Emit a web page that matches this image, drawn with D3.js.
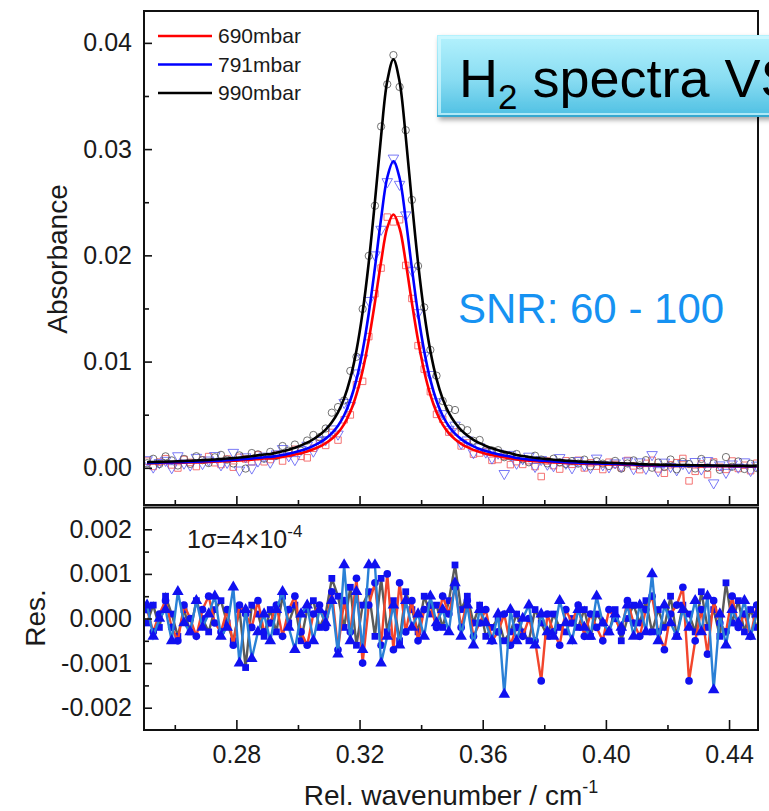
<!DOCTYPE html>
<html>
<head>
<meta charset="utf-8">
<script src="https://cdn.jsdelivr.net/npm/d3@7"></script>
<style>
  body { margin: 0; background: #fff; }
  svg { display: block; }
</style>
</head>
<body>
<div id="chart"></div>
<script>
// wavenumber grid (cm-1)
const wavenumber = [
  0.251,0.253,0.255,0.257,0.259,0.261,0.263,0.265,0.267,0.269,
  0.271,0.273,0.275,0.277,0.279,0.281,0.283,0.285,0.287,0.289,
  0.291,0.293,0.295,0.297,0.299,0.301,0.303,0.305,0.307,0.309,
  0.311,0.313,0.315,0.317,0.319,0.321,0.323,0.325,0.327,0.329,
  0.331,0.333,0.335,0.337,0.339,0.341,0.343,0.345,0.347,0.349,
  0.351,0.353,0.355,0.357,0.359,0.361,0.363,0.365,0.367,0.369,
  0.371,0.373,0.375,0.377,0.379,0.381,0.383,0.385,0.387,0.389,
  0.391,0.393,0.395,0.397,0.399,0.401,0.403,0.405,0.407,0.409,
  0.411,0.413,0.415,0.417,0.419,0.421,0.423,0.425,0.427,0.429,
  0.431,0.433,0.435,0.437,0.439,0.441,0.443,0.445,0.447,0.449
];

// fitted profiles
const fit690 = [
  0.00043,0.00043,0.00044,0.00046,0.00047,0.00048,0.00049,0.00051,0.00052,0.00054,
  0.00056,0.00058,0.00061,0.00063,0.00066,0.00069,0.00073,0.00077,0.00082,0.00087,
  0.00088,0.00095,0.00104,0.00113,0.00125,0.00138,0.00154,0.00174,0.00199,0.00231,
  0.00273,0.00331,0.00412,0.00528,0.00692,0.00914,0.01205,0.01559,0.01940,0.02260,
  0.02385,0.02255,0.01935,0.01554,0.01200,0.00909,0.00687,0.00523,0.00407,0.00326,
  0.00268,0.00226,0.00194,0.00169,0.00149,0.00133,0.00120,0.00108,0.00099,0.00090,
  0.00078,0.00072,0.00067,0.00062,0.00058,0.00054,0.00051,0.00048,0.00046,0.00043,
  0.00041,0.00039,0.00037,0.00036,0.00034,0.00033,0.00032,0.00031,0.00029,0.00028,
  0.00023,0.00022,0.00021,0.00020,0.00019,0.00019,0.00018,0.00018,0.00017,0.00017,
  0.00016,0.00016,0.00015,0.00015,0.00015,0.00014,0.00014,0.00014,0.00013,0.00013
];
const fit791 = [
  0.00046,0.00047,0.00049,0.00050,0.00051,0.00053,0.00054,0.00056,0.00058,0.00060,
  0.00063,0.00065,0.00068,0.00071,0.00075,0.00079,0.00083,0.00088,0.00094,0.00100,
  0.00103,0.00111,0.00121,0.00133,0.00147,0.00163,0.00182,0.00207,0.00237,0.00275,
  0.00326,0.00397,0.00495,0.00636,0.00833,0.01103,0.01455,0.01884,0.02345,0.02733,
  0.02885,0.02728,0.02340,0.01879,0.01450,0.01098,0.00828,0.00631,0.00490,0.00392,
  0.00321,0.00270,0.00232,0.00202,0.00177,0.00158,0.00142,0.00128,0.00116,0.00106,
  0.00093,0.00085,0.00079,0.00073,0.00068,0.00064,0.00060,0.00056,0.00053,0.00050,
  0.00048,0.00045,0.00043,0.00041,0.00039,0.00038,0.00036,0.00035,0.00034,0.00032,
  0.00026,0.00025,0.00024,0.00023,0.00023,0.00022,0.00021,0.00020,0.00020,0.00019,
  0.00019,0.00018,0.00018,0.00017,0.00017,0.00016,0.00016,0.00016,0.00015,0.00015
];
const fit990 = [
  0.00053,0.00055,0.00056,0.00058,0.00060,0.00062,0.00064,0.00067,0.00069,0.00072,
  0.00075,0.00079,0.00082,0.00087,0.00091,0.00097,0.00103,0.00109,0.00117,0.00126,
  0.00130,0.00142,0.00155,0.00171,0.00189,0.00211,0.00237,0.00269,0.00309,0.00360,
  0.00429,0.00522,0.00654,0.00842,0.01105,0.01465,0.01935,0.02507,0.03123,0.03640,
  0.03845,0.03635,0.03118,0.02502,0.01930,0.01460,0.01100,0.00837,0.00649,0.00517,
  0.00424,0.00355,0.00304,0.00264,0.00232,0.00206,0.00184,0.00166,0.00150,0.00137,
  0.00120,0.00111,0.00102,0.00094,0.00088,0.00082,0.00076,0.00072,0.00067,0.00064,
  0.00060,0.00057,0.00054,0.00052,0.00049,0.00047,0.00045,0.00043,0.00041,0.00040,
  0.00033,0.00032,0.00031,0.00030,0.00028,0.00028,0.00026,0.00026,0.00025,0.00024,
  0.00023,0.00023,0.00022,0.00021,0.00021,0.00020,0.00020,0.00019,0.00018,0.00018
];

// residuals (data - fit)
const res690 = [
  2e-4,-3e-4,1e-4,4e-4,-2e-4,-5e-4,3e-4,0,-4e-4,2e-4,
  5e-4,-1e-4,-3e-4,2e-4,-6e-4,3e-4,1e-4,-2e-4,4e-4,-3e-4,
  -1e-4,3e-4,-4e-4,2e-4,5e-4,-3e-4,-6e-4,1e-4,3e-4,-2e-4,
  6e-4,-7e-4,4e-4,-3e-4,9e-4,-10e-4,3e-4,8e-4,-6e-4,10e-4,
  -7e-4,8e-4,-3e-4,4e-4,-5e-4,2e-4,3e-4,-2e-4,5e-4,1e-4,
  7e-4,-2e-4,4e-4,-4e-4,-1e-4,2e-4,-5e-4,-3e-4,1e-4,-6e-4,
  -2e-4,-4e-4,0,-5e-4,-14e-4,1e-4,-3e-4,-6e-4,2e-4,-1e-4,
  3e-4,-4e-4,1e-4,-2e-4,-5e-4,2e-4,0,-3e-4,4e-4,-1e-4,
  -4e-4,2e-4,5e-4,-3e-4,-7e-4,1e-4,3e-4,7e-4,-14e-4,-5e-4,
  2e-4,-8e-4,4e-4,-1e-4,-3e-4,5e-4,-2e-4,1e-4,-4e-4,3e-4
];
const res791 = [
  3e-4,-4e-4,0,2e-4,-5e-4,6e-4,-1e-4,-3e-4,4e-4,-2e-4,
  1e-4,5e-4,-4e-4,-2e-4,7e-4,-10e-4,2e-4,-9e-4,-3e-4,1e-4,
  -5e-4,2e-4,6e-4,-2e-4,-7e-4,1e-4,3e-4,-5e-4,2e-4,-1e-4,
  4e-4,-8e-4,12e-4,-5e-4,6e-4,-7e-4,12e-4,12e-4,-10e-4,-4e-4,
  3e-4,-6e-4,4e-4,-2e-4,1e-4,-4e-4,5e-4,-1e-4,2e-4,-3e-4,
  8e-4,-4e-4,3e-4,-6e-4,2e-4,-1e-4,-5e-4,1e-4,-17e-4,2e-4,
  -5e-4,0,3e-4,-6e-4,1e-4,-3e-4,-4e-4,4e-4,-1e-4,-5e-4,
  2e-4,-2e-4,-4e-4,5e-4,-1e-4,-3e-4,1e-4,-2e-4,3e-4,-4e-4,
  3e-4,-3e-4,10e-4,-5e-4,3e-4,-1e-4,-4e-4,2e-4,-2e-4,4e-4,
  -3e-4,5e-4,-16e-4,1e-4,-6e-4,2e-4,-1e-4,4e-4,-4e-4,1e-4
];
const res990 = [
  -1e-4,3e-4,-2e-4,5e-4,1e-4,-4e-4,2e-4,-3e-4,4e-4,0,
  -3e-4,2e-4,4e-4,-1e-4,-5e-4,2e-4,-11e-4,3e-4,1e-4,-4e-4,
  2e-4,-3e-4,5e-4,-1e-4,3e-4,-5e-4,2e-4,4e-4,-2e-4,1e-4,
  9e-4,5e-4,-2e-4,7e-4,-6e-4,3e-4,6e-4,-4e-4,9e-4,-3e-4,
  4e-4,-5e-4,6e-4,2e-4,-3e-4,5e-4,1e-4,3e-4,-2e-4,4e-4,
  12e-4,2e-4,5e-4,-1e-4,3e-4,-4e-4,-2e-4,0,-5e-4,-3e-4,
  1e-4,-3e-4,-5e-4,2e-4,-1e-4,-4e-4,1e-4,-2e-4,-3e-4,0,
  -2e-4,2e-4,-4e-4,1e-4,-1e-4,-3e-4,2e-4,-5e-4,0,3e-4,
  -1e-4,4e-4,-3e-4,2e-4,-2e-4,5e-4,-4e-4,3e-4,1e-4,-3e-4,
  6e-4,-2e-4,2e-4,-4e-4,8e-4,-1e-4,4e-4,-3e-4,2e-4,-2e-4
];

const legendLabels = ["690mbar", "791mbar", "990mbar"];
const absTicks = [0.00, 0.01, 0.02, 0.03, 0.04];
const absMinor = [0.005, 0.015, 0.025, 0.035];
const resTicks = [-0.002, -0.001, 0.000, 0.001, 0.002];
const resMinor = [-0.0015, -0.0005, 0.0005, 0.0015];
const xTicks = [0.28, 0.32, 0.36, 0.40, 0.44];
const xMinor = [0.26, 0.30, 0.34, 0.38, 0.42];

const FONT = "'Liberation Sans', Arial, sans-serif";
const W = 769, H = 811;
const left = 144, right = 758;

const svg = d3.select("#chart").append("svg")
  .attr("width", W).attr("height", H)
  .style("font-family", FONT);

const x = d3.scaleLinear().domain([0.25, 0.4494]).range([left, right]);
const yTop = d3.scaleLinear().domain([-0.0035, 0.043]).range([505, 11]);
const yBot = d3.scaleLinear().domain([-0.0025, 0.0025]).range([730, 507]);

const defs = svg.append("defs");
defs.append("clipPath").attr("id", "clipTop").append("rect")
  .attr("x", left).attr("y", 11).attr("width", right - left).attr("height", 494);
defs.append("clipPath").attr("id", "clipBot").append("rect")
  .attr("x", left).attr("y", 507).attr("width", right - left).attr("height", 223);

const series = [
  {fit: fit690, res: res690, fitColor: "#ff0000", ptColor: "#f25a5a", resColor: "#f2452c", sym: d3.symbolCircle, open: d3.symbolSquare, openRot: 0},
  {fit: fit791, res: res791, fitColor: "#0000ff", ptColor: "#6262f5", resColor: "#2a80d6", sym: d3.symbolTriangle, open: d3.symbolTriangle, openRot: 180},
  {fit: fit990, res: res990, fitColor: "#000000", ptColor: "#5a5a5a", resColor: "#5a5a5a", sym: d3.symbolSquare, open: d3.symbolCircle, openRot: 0}
];

// ---------- top panel ----------
const topG = svg.append("g").attr("clip-path", "url(#clipTop)");

series.forEach(s => {
  topG.append("g")
    .selectAll("path")
    .data(wavenumber.map((w, i) => [w, s.fit[i] + s.res[i]]))
    .join("path")
    .attr("d", d3.symbol().type(s.open).size(s.open === d3.symbolTriangle ? 48 : 42))
    .attr("transform", d => `translate(${x(d[0])},${yTop(d[1])}) rotate(${s.openRot})`)
    .attr("fill", "none")
    .attr("stroke", s.ptColor)
    .attr("stroke-width", 1)
    .attr("opacity", 0.85);
});

const fitLine = d3.line()
  .x((d, i) => x(wavenumber[i]))
  .y(d => yTop(d))
  .curve(d3.curveCatmullRom);

series.forEach(s => {
  topG.append("path")
    .datum(s.fit)
    .attr("d", fitLine)
    .attr("fill", "none")
    .attr("stroke", s.fitColor)
    .attr("stroke-width", 2.6);
});

// ---------- bottom panel ----------
const botG = svg.append("g").attr("clip-path", "url(#clipBot)");
const resLine = d3.line()
  .x((d, i) => x(wavenumber[i]))
  .y(d => yBot(d));

[series[2], series[0], series[1]].forEach(s => {
  botG.append("path")
    .datum(s.res)
    .attr("d", resLine)
    .attr("fill", "none")
    .attr("stroke", s.resColor)
    .attr("stroke-width", 2.4);
  botG.append("g")
    .selectAll("path")
    .data(s.res)
    .join("path")
    .attr("d", d3.symbol().type(s.sym).size(s.sym === d3.symbolTriangle ? 58 : 46))
    .attr("transform", (d, i) => `translate(${x(wavenumber[i])},${yBot(d)})`)
    .attr("fill", "#1010f0");
});

// ---------- axes ----------
function styleAxis(g, size) {
  g.select(".domain").remove();
  g.selectAll("line").attr("stroke", "#111").attr("stroke-width", 1.6);
  g.selectAll("text").attr("font-size", size).attr("font-family", FONT).attr("fill", "#1a1a1a");
}

// top panel y
svg.append("g").attr("transform", `translate(${left},0)`)
  .call(d3.axisLeft(yTop).tickValues(absTicks).tickSize(-8).tickPadding(12).tickFormat(d => d.toFixed(2)))
  .call(g => styleAxis(g, 25));
svg.append("g").attr("transform", `translate(${left},0)`)
  .call(d3.axisLeft(yTop).tickValues(absMinor).tickSize(-5).tickFormat(""))
  .call(g => styleAxis(g, 25));
// top panel x ticks (no labels)
svg.append("g").attr("transform", "translate(0,505)")
  .call(d3.axisBottom(x).tickValues(xTicks).tickSize(-9).tickFormat(""))
  .call(g => styleAxis(g, 25));
svg.append("g").attr("transform", "translate(0,505)")
  .call(d3.axisBottom(x).tickValues(xMinor).tickSize(-5).tickFormat(""))
  .call(g => styleAxis(g, 25));

// bottom panel y
svg.append("g").attr("transform", `translate(${left},0)`)
  .call(d3.axisLeft(yBot).tickValues(resTicks).tickSize(-8).tickPadding(12).tickFormat(d => d.toFixed(3)))
  .call(g => styleAxis(g, 25));
svg.append("g").attr("transform", `translate(${left},0)`)
  .call(d3.axisLeft(yBot).tickValues(resMinor).tickSize(-5).tickFormat(""))
  .call(g => styleAxis(g, 25));
// bottom panel x
svg.append("g").attr("transform", "translate(0,730)")
  .call(d3.axisBottom(x).tickValues(xTicks).tickSize(-10).tickPadding(15).tickFormat(d => d.toFixed(2)))
  .call(g => styleAxis(g, 25));
svg.append("g").attr("transform", "translate(0,730)")
  .call(d3.axisBottom(x).tickValues(xMinor).tickSize(-5).tickFormat(""))
  .call(g => styleAxis(g, 25));

// frames
svg.append("rect").attr("x", left).attr("y", 11).attr("width", right - left).attr("height", 494)
  .attr("fill", "none").attr("stroke", "#111").attr("stroke-width", 2);
svg.append("rect").attr("x", left).attr("y", 507.5).attr("width", right - left).attr("height", 222.5)
  .attr("fill", "none").attr("stroke", "#111").attr("stroke-width", 2);

// axis titles
svg.append("text")
  .attr("transform", "translate(67,259) rotate(-90)")
  .attr("text-anchor", "middle")
  .attr("font-size", 28)
  .attr("fill", "#1a1a1a")
  .text("Absorbance");
svg.append("text")
  .attr("transform", "translate(45,618) rotate(-90)")
  .attr("text-anchor", "middle")
  .attr("font-size", 28)
  .attr("fill", "#1a1a1a")
  .text("Res.");
const xt = svg.append("text")
  .attr("x", (left + right) / 2)
  .attr("y", 805)
  .attr("text-anchor", "middle")
  .attr("font-size", 28)
  .attr("fill", "#1a1a1a");
xt.append("tspan").text("Rel. wavenumber / cm");
xt.append("tspan").attr("font-size", 18).attr("dy", -12).text("-1");

// legend
const legend = svg.append("g");
legendLabels.forEach((lab, i) => {
  const yy = 36 + i * 28.5;
  legend.append("line")
    .attr("x1", 158).attr("x2", 212).attr("y1", yy).attr("y2", yy)
    .attr("stroke", series[i].fitColor).attr("stroke-width", 2.5);
  legend.append("text")
    .attr("x", 218).attr("y", yy).attr("dy", "0.35em")
    .attr("font-size", 21).attr("fill", "#1a1a1a")
    .text(lab);
});

// sigma annotation
const sig = svg.append("text").attr("x", 187).attr("y", 548).attr("font-size", 25).attr("fill", "#1a1a1a");
sig.append("tspan").text("1σ=4×10");
sig.append("tspan").attr("font-size", 17).attr("dy", -11).text("-4");

// SNR annotation
svg.append("text")
  .attr("x", 458).attr("y", 323)
  .attr("font-size", 42)
  .attr("fill", "#1692f2")
  .text("SNR: 60 - 100");

// title box
const grad = defs.append("linearGradient").attr("id", "boxGrad")
  .attr("x1", 0).attr("y1", 0).attr("x2", 0).attr("y2", 1);
grad.append("stop").attr("offset", "0%").attr("stop-color", "#b4f2fd");
grad.append("stop").attr("offset", "55%").attr("stop-color", "#88dcf2");
grad.append("stop").attr("offset", "100%").attr("stop-color", "#4dbfe2");
const shadow = defs.append("filter").attr("id", "boxShadow")
  .attr("x", "-10%").attr("y", "-20%").attr("width", "130%").attr("height", "150%");
shadow.append("feDropShadow").attr("dx", 2).attr("dy", 3).attr("stdDeviation", 2.5)
  .attr("flood-color", "#000").attr("flood-opacity", 0.35);

const box = svg.append("g");
box.append("rect")
  .attr("x", 437).attr("y", 35).attr("width", 360).attr("height", 82)
  .attr("fill", "url(#boxGrad)")
  .attr("filter", "url(#boxShadow)");
box.append("rect")
  .attr("x", 439.5).attr("y", 37.5).attr("width", 360).attr("height", 77)
  .attr("fill", "none").attr("stroke", "#d6faff").attr("stroke-width", 3).attr("opacity", 0.7);
box.append("line")
  .attr("x1", 437).attr("x2", 797).attr("y1", 116).attr("y2", 116)
  .attr("stroke", "#36a8cf").attr("stroke-width", 2);
const title = box.append("text")
  .attr("x", 459).attr("y", 97)
  .attr("font-size", 54)
  .attr("fill", "#000");
title.append("tspan").text("H");
title.append("tspan").attr("font-size", 35).attr("dy", 12).text("2");
title.append("tspan").attr("dy", -12).text(" spectra VS");
</script>
</body>
</html>
